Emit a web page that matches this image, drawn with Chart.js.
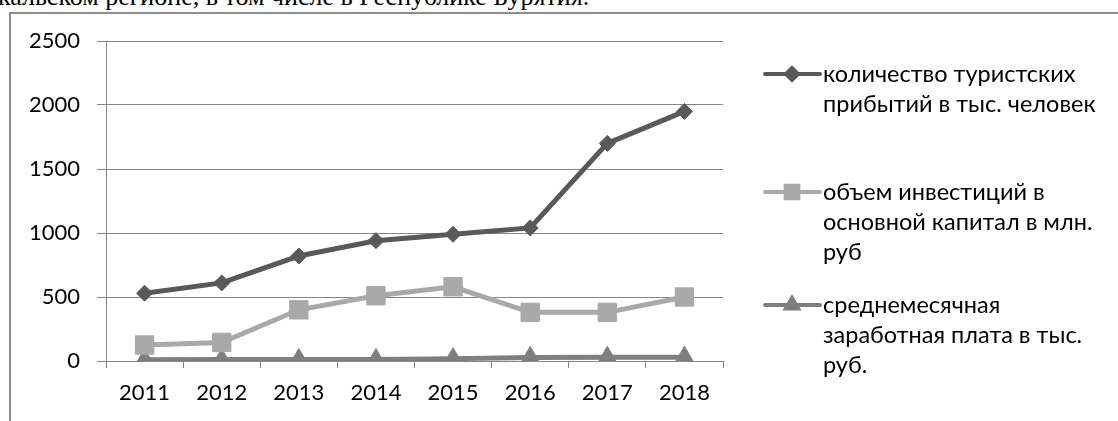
<!DOCTYPE html>
<html>
<head>
<meta charset="utf-8">
<script src="https://cdn.jsdelivr.net/npm/chart.js@4.4.1/dist/chart.umd.min.js"></script>
<style>
    html, body { margin: 0; padding: 0; background: #fff; }
    body { width: 1118px; height: 421px; overflow: hidden; position: relative; }
    #caption { position: absolute; left: -2px; top: -18px; font: 26px 'Liberation Serif', serif; line-height: 30px; white-space: nowrap; color: #000; }
    #frame { position: absolute; left: 9px; top: 12px; width: 2000px; height: 1000px; border-top: 2px solid #8c8c8c; border-left: 2px solid #8c8c8c; }
    #wrap { position: absolute; left: 0; top: 0; width: 1118px; height: 421px; }
</style>
</head>
<body>
<div id="caption">кальском регионе, в том числе в Республике Бурятия.</div>
<div id="frame"></div>
<div id="wrap"><canvas id="turizmChart" width="1118" height="421"></canvas></div>
<script>
// Datos
const years = ['2011', '2012', '2013', '2014', '2015', '2016', '2017', '2018'];
const tourists = [530, 610, 820, 940, 990, 1040, 1700, 1950];
const investments = [125, 145, 400, 510, 580, 380, 380, 500];
const salary = [10, 11, 12, 12, 18, 28, 29, 30];
const yTicks = [0, 500, 1000, 1500, 2000, 2500];
const touristsName = ['количество туристских', 'прибытий в тыс. человек'];
const investmentsName = ['объем инвестиций в', 'основной капитал в млн.', 'руб'];
const salaryName = ['среднемесячная', 'заработная плата в тыс.', 'руб.'];

const font = { family: 'Lato, sans-serif', size: 22 };
const legendFont = '23.5px Lato, sans-serif';
const gridColor = '#868686';

// Leyenda a la derecha, con varias líneas por serie
const sideLegend = {
    id: 'sideLegend',
    afterDraw(chart) {
        const ctx = chart.ctx;
        const firstLine = [74, 192, 305];
        chart.data.datasets.forEach((ds, i) => {
            const y = firstLine[i];
            ctx.save();
            ctx.strokeStyle = ds.borderColor;
            ctx.lineWidth = 4;
            ctx.lineCap = 'round';
            ctx.beginPath();
            ctx.moveTo(765, y);
            ctx.lineTo(820, y);
            ctx.stroke();
            ctx.fillStyle = ds.backgroundColor;
            ctx.strokeStyle = ds.borderColor;
            Chart.helpers.drawPoint(ctx, { pointStyle: ds.pointStyle, radius: ds.legendRadius, borderWidth: 1, rotation: 0 }, 792, y);
            ctx.fillStyle = '#000';
            ctx.font = legendFont;
            ctx.textBaseline = 'middle';
            ctx.textAlign = 'left';
            ds.nameLines.forEach((line, k) => ctx.fillText(line, 823, y + k * 30));
            ctx.restore();
        });
    }
};

const ctx = document.getElementById('turizmChart');
new Chart(ctx, {
    type: 'line',
    data: {
        labels: years,
        datasets: [{
            label: touristsName.join(' '),
            nameLines: touristsName,
            data: tourists,
            borderColor: '#595959',
            backgroundColor: '#595959',
            borderWidth: 5,
            pointStyle: 'rectRot',
            pointRadius: 8,
            pointBorderWidth: 1,
            legendRadius: 6,
            tension: 0
        }, {
            label: investmentsName.join(' '),
            nameLines: investmentsName,
            data: investments,
            borderColor: '#a9a9a9',
            backgroundColor: '#a9a9a9',
            borderWidth: 5,
            pointStyle: 'rect',
            pointRadius: 13,
            pointBorderWidth: 1,
            legendRadius: 9,
            tension: 0
        }, {
            label: salaryName.join(' '),
            nameLines: salaryName,
            data: salary,
            borderColor: '#7f7f7f',
            backgroundColor: '#7f7f7f',
            borderWidth: 5,
            pointStyle: 'triangle',
            pointRadius: 11,
            pointBorderWidth: 1,
            legendRadius: 7,
            tension: 0
        }]
    },
    options: {
        responsive: false,
        animation: false,
        layout: { padding: { top: 41, right: 395, left: 0, bottom: 0 } },
        plugins: { legend: { display: false }, tooltip: { enabled: false } },
        scales: {
            x: {
                offset: true,
                grid: { offset: true, drawOnChartArea: false, tickLength: 7, color: gridColor },
                border: { color: gridColor },
                ticks: { font: font, color: '#000', padding: 12, maxRotation: 0 },
                afterFit: (s) => { s.height = 60; }
            },
            y: {
                min: yTicks[0],
                max: yTicks[yTicks.length - 1],
                ticks: { stepSize: 500, font: font, color: '#000', padding: 17, callback: (v) => String(v) },
                grid: { color: gridColor, tickLength: 9 },
                border: { color: gridColor },
                afterFit: (s) => { s.width = 106; }
            }
        }
    },
    plugins: [sideLegend]
});
</script>
</body>
</html>
